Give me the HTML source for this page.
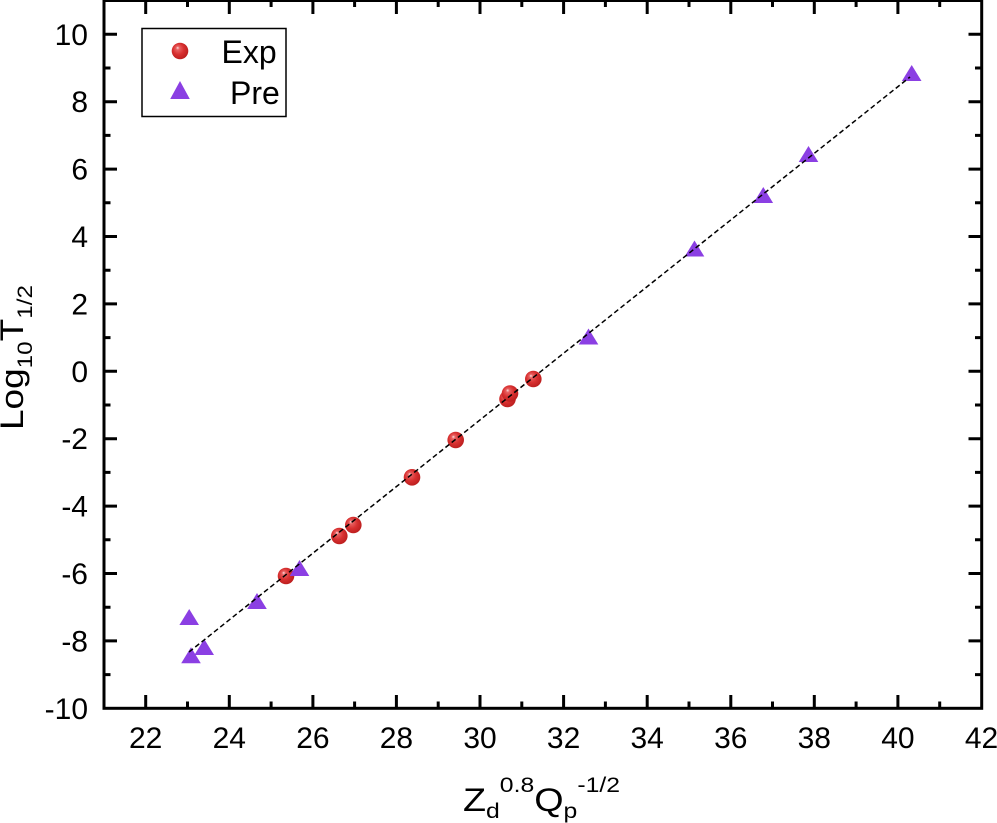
<!DOCTYPE html>
<html>
<head>
<meta charset="utf-8">
<style>
  html, body { margin: 0; padding: 0; background: #fff; }
  svg { display: block; }
  text { font-family: "Liberation Sans", Arial, sans-serif; fill: #000; }
</style>
</head>
<body>
<svg width="997" height="823" viewBox="0 0 997 823" xmlns="http://www.w3.org/2000/svg">
  <defs>
    <radialGradient id="sph" cx="0.45" cy="0.45" r="0.6" fx="0.35" fy="0.3">
      <stop offset="0" stop-color="#fbe0e0"/>
      <stop offset="0.18" stop-color="#e86060"/>
      <stop offset="0.55" stop-color="#d83030"/>
      <stop offset="1" stop-color="#b81c1c"/>
    </radialGradient>
  </defs>

  <!-- frame -->
  <rect x="104" y="0.5" width="877.7" height="707.8" fill="none" stroke="#000" stroke-width="3"/>

  <!-- ticks -->
  <g stroke="#000" stroke-width="3">
    <!-- bottom major -->
    <path d="M145.7 708V695 M229.3 708V695 M312.9 708V695 M396.4 708V695 M480 708V695 M563.6 708V695 M647.2 708V695 M730.8 708V695 M814.3 708V695 M897.9 708V695"/>
    <!-- bottom minor -->
    <path d="M187.5 708V701.5 M271.1 708V701.5 M354.6 708V701.5 M438.2 708V701.5 M521.8 708V701.5 M605.4 708V701.5 M689 708V701.5 M772.5 708V701.5 M856.1 708V701.5 M939.7 708V701.5"/>
    <!-- top major -->
    <path d="M145.7 0V14 M229.3 0V14 M312.9 0V14 M396.4 0V14 M480 0V14 M563.6 0V14 M647.2 0V14 M730.8 0V14 M814.3 0V14 M897.9 0V14"/>
    <!-- top minor -->
    <path d="M187.5 0V7 M271.1 0V7 M354.6 0V7 M438.2 0V7 M521.8 0V7 M605.4 0V7 M689 0V7 M772.5 0V7 M856.1 0V7 M939.7 0V7"/>
    <!-- left major -->
    <path d="M104 640.9H117 M104 573.5H117 M104 506.1H117 M104 438.7H117 M104 371.3H117 M104 303.9H117 M104 236.5H117 M104 169.1H117 M104 101.7H117 M104 34.3H117"/>
    <!-- left minor -->
    <path d="M104 674.6H110.5 M104 607.2H110.5 M104 539.8H110.5 M104 472.4H110.5 M104 405H110.5 M104 337.6H110.5 M104 270.2H110.5 M104 202.8H110.5 M104 135.4H110.5 M104 68H110.5"/>
    <!-- right major -->
    <path d="M981.7 640.9H968.5 M981.7 573.5H968.5 M981.7 506.1H968.5 M981.7 438.7H968.5 M981.7 371.3H968.5 M981.7 303.9H968.5 M981.7 236.5H968.5 M981.7 169.1H968.5 M981.7 101.7H968.5 M981.7 34.3H968.5"/>
    <!-- right minor -->
    <path d="M981.7 674.6H975 M981.7 607.2H975 M981.7 539.8H975 M981.7 472.4H975 M981.7 405H975 M981.7 337.6H975 M981.7 270.2H975 M981.7 202.8H975 M981.7 135.4H975 M981.7 68H975"/>
  </g>

  <!-- y tick labels -->
  <g font-size="30" text-anchor="end">
    <text x="88" y="719">-10</text>
    <text x="88" y="651.5">-8</text>
    <text x="88" y="584">-6</text>
    <text x="88" y="516.5">-4</text>
    <text x="88" y="449">-2</text>
    <text x="88" y="382">0</text>
    <text x="88" y="314.5">2</text>
    <text x="88" y="247">4</text>
    <text x="88" y="179.5">6</text>
    <text x="88" y="112">8</text>
    <text x="88" y="45">10</text>
  </g>

  <!-- x tick labels -->
  <g font-size="30" text-anchor="middle">
    <text x="145.7" y="748">22</text>
    <text x="229.3" y="748">24</text>
    <text x="312.9" y="748">26</text>
    <text x="396.4" y="748">28</text>
    <text x="480" y="748">30</text>
    <text x="563.6" y="748">32</text>
    <text x="647.2" y="748">34</text>
    <text x="730.8" y="748">36</text>
    <text x="814.3" y="748">38</text>
    <text x="897.9" y="748">40</text>
    <text x="981.5" y="748">42</text>
  </g>

  <!-- x title -->
  <text x="463" y="811" font-size="32" textLength="157" lengthAdjust="spacingAndGlyphs">Z<tspan font-size="21" dy="7">d</tspan><tspan font-size="21" dy="-26">0.8</tspan><tspan font-size="32" dy="19">Q</tspan><tspan font-size="21" dy="7">p</tspan><tspan font-size="21" dy="-26">-1/2</tspan></text>

  <!-- y title -->
  <g transform="translate(23,430) rotate(-90)">
    <text x="0" y="0" font-size="32" textLength="145" lengthAdjust="spacingAndGlyphs">Log<tspan font-size="21" dy="9">10</tspan><tspan font-size="32" dy="-9">T</tspan><tspan font-size="21" dy="9">1/2</tspan></text>
  </g>

  <!-- Exp circles -->
  <g fill="url(#sph)">
    <circle cx="286" cy="576" r="8.3"/>
    <circle cx="339.3" cy="536" r="8.3"/>
    <circle cx="353.3" cy="525" r="8.3"/>
    <circle cx="412" cy="477.3" r="8.3"/>
    <circle cx="455.7" cy="440" r="8.3"/>
    <circle cx="507.5" cy="399" r="8.3"/>
    <circle cx="510" cy="393.5" r="8.3"/>
    <circle cx="533.3" cy="379" r="8.3"/>
  </g>

  <!-- Pre triangles -->
  <g fill="#8b3fe3">
    <path d="M911.7 65 L921.5 81 L901.9 81 Z"/>
    <path d="M808.5 146 L818.3 162 L798.7 162 Z"/>
    <path d="M763.3 187 L773.1 203 L753.5 203 Z"/>
    <path d="M694.5 240.5 L704.3 256.5 L684.7 256.5 Z"/>
    <path d="M588.5 328.5 L598.3 344.5 L578.7 344.5 Z"/>
    <path d="M299.5 560 L309.3 576 L289.7 576 Z"/>
    <path d="M257 593 L266.8 609 L247.2 609 Z"/>
    <path d="M189.2 609 L199 625 L179.4 625 Z"/>
    <path d="M204.2 639 L214 655 L194.4 655 Z"/>
    <path d="M191 647.3 L200.8 663.3 L181.2 663.3 Z"/>
  </g>

  <!-- fit line -->
  <line x1="189" y1="652" x2="910" y2="77" stroke="#000" stroke-width="1.5" stroke-dasharray="5,3"/>

  <!-- legend -->
  <rect x="142" y="28.5" width="144" height="88" fill="none" stroke="#000" stroke-width="1.5"/>
  <circle cx="180" cy="51" r="8.3" fill="url(#sph)"/>
  <path d="M180 81 L189.8 99 L170.2 99 Z" fill="#8b3fe3"/>
  <text x="221.5" y="63" font-size="32">Exp</text>
  <text x="230" y="104" font-size="32">Pre</text>
</svg>
</body>
</html>
